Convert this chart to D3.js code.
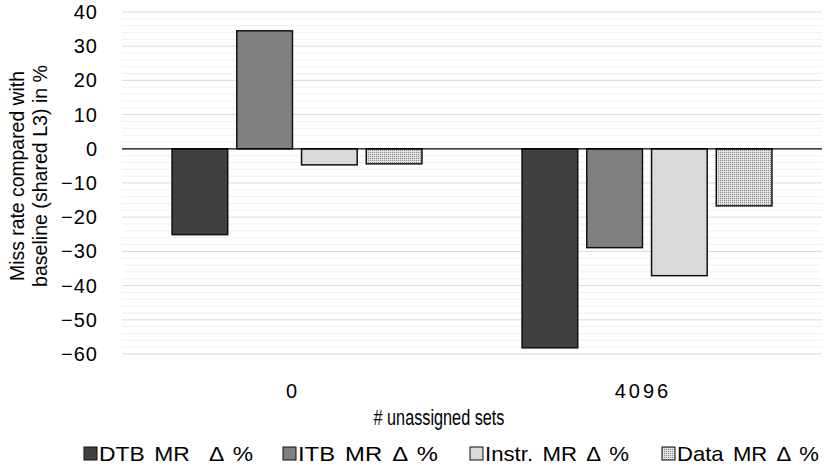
<!DOCTYPE html>
<html lang="en">
<head>
    <meta charset="UTF-8">
    <title>Miss rate delta</title>
    <script src="https://cdn.jsdelivr.net/npm/d3@7"></script>
    <style>
        body {
            margin: 0;
            background-color: white;
        }
        text {
            font-family: "Liberation Sans", Arial, sans-serif;
            fill: black;
        }
    </style>
</head>
<body>
<svg id="svg" width="831" height="467"></svg>
<script>
    var groups = ["0", "4096"];
    var series = ["DTB MR  \u0394 %", "ITB MR \u0394 %", "Instr. MR \u0394 %", "Data MR \u0394 %"];
    var dtbValues = [-25.1, -58.2];
    var itbValues = [34.5, -28.9];
    var instrValues = [-4.7, -37.1];
    var dataValues = [-4.4, -16.7];
    var yTicks = [40, 30, 20, 10, 0, -10, -20, -30, -40, -50, -60];
    var yTitleLines = ["Miss rate compared with", "baseline (shared L3) in %"];

    var allValues = [dtbValues, itbValues, instrValues, dataValues];
    var fills = ["#404040", "#808080", "#d9d9d9", "url(#dots)"];

    // layout: legend swatch left edges and squeezed text widths
    var legendX = [84, 283, 470, 662];
    var legendW = [160, 146, 150, 148];
    var yTitleX = [24, 47];
    var yTitleW = [210, 222];

    var svg = d3.select("#svg");

    // dotted fill for the last series
    var pat = svg.append("defs").append("pattern")
        .attr("id", "dots")
        .attr("width", 2)
        .attr("height", 2)
        .attr("patternUnits", "userSpaceOnUse");
    pat.append("rect").attr("width", 2).attr("height", 2).attr("fill", "#e0e0e0");
    pat.append("rect").attr("width", 1).attr("height", 1).attr("fill", "#8a8a8a");

    var plotLeft = 122, plotRight = 822, plotTop = 12, plotBottom = 354;

    var y = d3.scaleLinear().domain([-60, 40]).range([plotBottom, plotTop]);
    var x0 = d3.scaleBand().domain(groups).range([plotLeft, plotRight]);
    var bw = x0.bandwidth();
    var x1 = d3.scaleBand().domain(series)
        .range([bw * 0.143, bw * 0.857])
        .paddingInner(0.14);

    // minor gridlines every 2
    var minor = d3.range(-60, 41, 2).filter(function(v) { return v % 10 !== 0; });
    svg.append("g").selectAll("line")
        .data(minor)
        .enter()
        .append("line")
        .attr("x1", plotLeft).attr("x2", plotRight)
        .attr("y1", function(d) { return y(d); })
        .attr("y2", function(d) { return y(d); })
        .attr("stroke", "#f0f0f0")
        .attr("stroke-width", 1);

    // major gridlines
    svg.append("g").selectAll("line")
        .data(yTicks.filter(function(v) { return v !== 0; }))
        .enter()
        .append("line")
        .attr("x1", plotLeft).attr("x2", plotRight)
        .attr("y1", function(d) { return y(d); })
        .attr("y2", function(d) { return y(d); })
        .attr("stroke", "#d9d9d9")
        .attr("stroke-width", 1);

    // y tick labels
    var yAxis = svg.append("g")
        .attr("transform", "translate(" + (plotLeft - 24) + ",0)")
        .call(d3.axisLeft(y).tickValues(yTicks).tickSize(0).tickPadding(0));
    yAxis.select(".domain").remove();
    yAxis.selectAll("text")
        .attr("font-size", 20)
        .attr("font-family", "Liberation Sans, Arial, sans-serif")
        .attr("fill", "black")
        .attr("letter-spacing", "1");

    // bars
    var gBars = svg.append("g");
    series.forEach(function(s, i) {
        gBars.selectAll("rect.s" + i)
            .data(allValues[i])
            .enter()
            .append("rect")
            .attr("class", "s" + i)
            .attr("x", function(d, j) { return x0(groups[j]) + x1(s); })
            .attr("width", x1.bandwidth())
            .attr("y", function(d) { return y(Math.max(0, d)); })
            .attr("height", function(d) { return Math.abs(y(d) - y(0)); })
            .attr("fill", fills[i])
            .attr("stroke", "#111")
            .attr("stroke-width", 1.5);
    });

    // zero line
    svg.append("line")
        .attr("x1", plotLeft).attr("x2", plotRight)
        .attr("y1", y(0)).attr("y2", y(0))
        .attr("stroke", "black")
        .attr("stroke-width", 1.2);

    // x tick labels
    var xAxis = svg.append("g")
        .attr("transform", "translate(-4," + (plotBottom + 30) + ")")
        .call(d3.axisBottom(x0).tickSize(0).tickPadding(0));
    xAxis.select(".domain").remove();
    xAxis.selectAll("text")
        .attr("font-size", 20)
        .attr("font-family", "Liberation Sans, Arial, sans-serif")
        .attr("fill", "black")
        .attr("letter-spacing", "3");

    // x title
    svg.append("text")
        .attr("x", 439)
        .attr("y", 425)
        .attr("text-anchor", "middle")
        .attr("font-size", 22)
        .attr("textLength", 131)
        .attr("lengthAdjust", "spacingAndGlyphs")
        .text("# unassigned sets");

    // y title, two lines
    svg.append("g").selectAll("text")
        .data(yTitleLines)
        .enter()
        .append("text")
        .attr("transform", function(d, i) { return "translate(" + yTitleX[i] + ",176) rotate(-90)"; })
        .attr("text-anchor", "middle")
        .attr("font-size", 21)
        .attr("textLength", function(d, i) { return yTitleW[i]; })
        .attr("lengthAdjust", "spacingAndGlyphs")
        .text(function(d) { return d; });

    // legend
    var legend = svg.append("g").selectAll("g")
        .data(series)
        .enter()
        .append("g")
        .attr("transform", function(d, i) { return "translate(" + legendX[i] + ",447)"; });
    legend.append("rect")
        .attr("width", 13).attr("height", 13)
        .attr("fill", function(d, i) { return fills[i]; })
        .attr("stroke", "#111")
        .attr("stroke-width", 1);
    legend.append("text")
        .attr("x", 15)
        .attr("y", 14)
        .attr("font-size", 21)
        .attr("word-spacing", "3")
        .attr("textLength", function(d, i) { return legendW[i] - 6; })
        .attr("lengthAdjust", "spacingAndGlyphs")
        .style("white-space", "pre")
        .text(function(d) { return d; });
</script>
</body>
</html>
